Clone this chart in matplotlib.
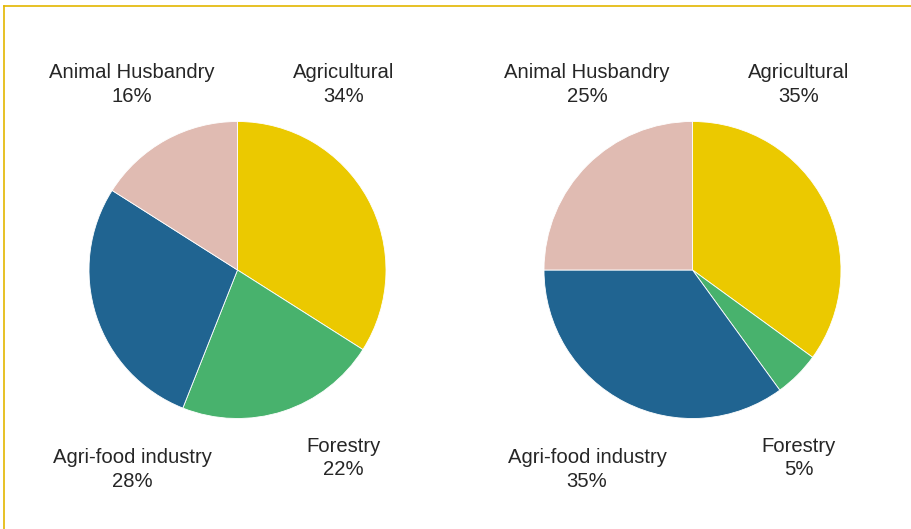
import matplotlib
matplotlib.use("Agg")
import matplotlib.pyplot as plt
from matplotlib.lines import Line2D

plt.rcParams['font.family'] = ['Liberation Sans', 'DejaVu Sans']

categories = ["Agricultural", "Forestry", "Agri-food industry", "Animal Husbandry"]
left_values = [34, 22, 28, 16]
right_values = [35, 5, 35, 25]
colors = ["#EBC900", "#48B26D", "#206491", "#E0BBB2"]

W, H = 912, 529
fig = plt.figure(figsize=(W / 100, H / 100), dpi=100)

R = 148.5  # pie radius in px
centers = [(237.5, 270), (692.5, 270)]

# label offsets in pie-radius units (centre of the two-line label)
label_pos = [(0.715, 1.25), (0.715, -1.265), (-0.71, -1.345), (-0.71, 1.25)]


def draw_pie(cx, cy, values):
    ax = fig.add_axes([(cx - R) / W, (H - cy - R) / H, 2 * R / W, 2 * R / H])
    ax.pie(values, colors=colors, startangle=90, counterclock=False,
           radius=1, wedgeprops=dict(edgecolor="white", linewidth=0.6))
    ax.set_xlim(-1, 1)
    ax.set_ylim(-1, 1)
    ax.set_aspect("equal")
    ax.axis("off")
    for name, v, (lx, ly) in zip(categories, values, label_pos):
        ax.text(lx, ly, f"{name}\n{v}%", ha="center", va="center",
                fontsize=14.6, color="#262626", linespacing=1.3)


for (cx, cy), vals in zip(centers, [left_values, right_values]):
    draw_pie(cx, cy, vals)

# frame: top and left edges only
border = "#E3B600"
fig.add_artist(Line2D([4.5 / W, 1.0], [1 - 6 / H, 1 - 6 / H], color=border, lw=1.2))
fig.add_artist(Line2D([4.5 / W, 4.5 / W], [0, 1 - 6 / H], color=border, lw=1.2))

fig.savefig("out.png", dpi=100)
